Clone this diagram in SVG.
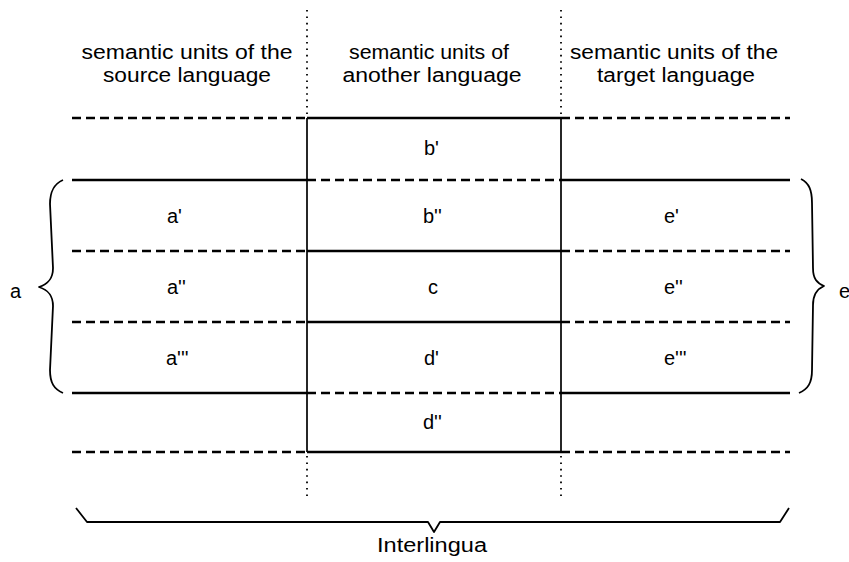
<svg xmlns="http://www.w3.org/2000/svg" width="849" height="562" viewBox="0 0 849 562">
<style>
  text { font-family: "Liberation Sans", Arial, sans-serif; fill: #000; font-size: 20px; }
  .hdr { text-anchor: middle; }
  .lbl { text-anchor: start; }
  .solid { stroke: #000; stroke-width: 2.6; fill: none; }
  .dash { stroke: #000; stroke-width: 2.4; stroke-dasharray: 9 5; fill: none; }
  .vline { stroke: #000; stroke-width: 1.7; fill: none; }
  .dot { stroke: #000; stroke-width: 1.8; stroke-dasharray: 1.6 4.8; fill: none; }
  .brace { stroke: #000; stroke-width: 1.8; fill: none; stroke-linejoin: round; }
</style>
<rect width="849" height="562" fill="#fff"/>

<g id="headers">
  <text class="hdr" x="187" y="59" textLength="211" lengthAdjust="spacingAndGlyphs">semantic units of the</text>
  <text class="hdr" x="187" y="82" textLength="168" lengthAdjust="spacingAndGlyphs">source language</text>
  <text class="hdr" x="429" y="59" textLength="160" lengthAdjust="spacingAndGlyphs">semantic units of</text>
  <text class="hdr" x="432" y="82" textLength="179" lengthAdjust="spacingAndGlyphs">another language</text>
  <text class="hdr" x="674" y="59" textLength="208" lengthAdjust="spacingAndGlyphs">semantic units of the</text>
  <text class="hdr" x="676" y="82" textLength="158" lengthAdjust="spacingAndGlyphs">target language</text>
</g>

<g id="connectors">
  <!-- vertical column dividers -->
  <line class="dot" x1="307" y1="10" x2="307" y2="118"/>
  <line class="vline" x1="307" y1="118" x2="307" y2="452"/>
  <line class="dot" x1="307" y1="456" x2="307" y2="496"/>
  <line class="dot" x1="561" y1="10" x2="561" y2="118"/>
  <line class="vline" x1="561" y1="118" x2="561" y2="452"/>
  <line class="dot" x1="561" y1="456" x2="561" y2="496"/>

  <!-- y=118 -->
  <line class="dash" x1="72" y1="118" x2="307" y2="118"/>
  <line class="solid" x1="307" y1="118" x2="561" y2="118"/>
  <line class="dash" x1="561" y1="118" x2="790" y2="118"/>
  <!-- y=180 -->
  <line class="solid" x1="72" y1="180" x2="307" y2="180"/>
  <line class="dash" x1="307" y1="180" x2="561" y2="180"/>
  <line class="solid" x1="561" y1="180" x2="790" y2="180"/>
  <!-- y=251 -->
  <line class="dash" x1="72" y1="251" x2="307" y2="251"/>
  <line class="solid" x1="307" y1="251" x2="561" y2="251"/>
  <line class="dash" x1="561" y1="251" x2="790" y2="251"/>
  <!-- y=322 -->
  <line class="dash" x1="72" y1="322" x2="307" y2="322"/>
  <line class="solid" x1="307" y1="322" x2="561" y2="322"/>
  <line class="dash" x1="561" y1="322" x2="790" y2="322"/>
  <!-- y=393 -->
  <line class="solid" x1="72" y1="393" x2="307" y2="393"/>
  <line class="dash" x1="307" y1="393" x2="561" y2="393"/>
  <line class="solid" x1="561" y1="393" x2="790" y2="393"/>
  <!-- y=452 -->
  <line class="dash" x1="72" y1="452" x2="307" y2="452"/>
  <line class="solid" x1="307" y1="452" x2="561" y2="452"/>
  <line class="dash" x1="561" y1="452" x2="790" y2="452"/>
</g>

<g id="braces">
  <path class="brace" d="M63,180 C54,184 50,191 50,204 L53,268 C53,279 48,284 39,287 C48,290 53,295 53,306 L50,370 C50,383 54,389 63,393"/>
  <path class="brace" d="M801,179 C809,183 812,190 812,203 L813,268 C813,279 817,283 824,286 C817,289 813,294 813,305 L812,370 C812,383 808,389 799,393"/>
  <path class="brace" d="M76,508 L87,522 L428,522 L434,532 L440,522 L780,522 L789,508"/>
</g>

<g id="side-labels">
  <text class="lbl" x="10" y="298">a</text>
  <text class="lbl" x="839" y="298">e</text>
  <text class="hdr" x="432" y="552" textLength="110" lengthAdjust="spacingAndGlyphs">Interlingua</text>
</g>

<g id="cells">
  <text class="lbl" x="424" y="155">b'</text>
  <text class="lbl" x="167" y="223">a'</text>
  <text class="lbl" x="423" y="223">b''</text>
  <text class="lbl" x="664" y="223">e'</text>
  <text class="lbl" x="167" y="294">a''</text>
  <text class="lbl" x="428" y="294">c</text>
  <text class="lbl" x="664" y="294">e''</text>
  <text class="lbl" x="166" y="365">a'''</text>
  <text class="lbl" x="424" y="365">d'</text>
  <text class="lbl" x="664" y="365">e'''</text>
  <text class="lbl" x="423" y="429">d''</text>
</g>
</svg>
